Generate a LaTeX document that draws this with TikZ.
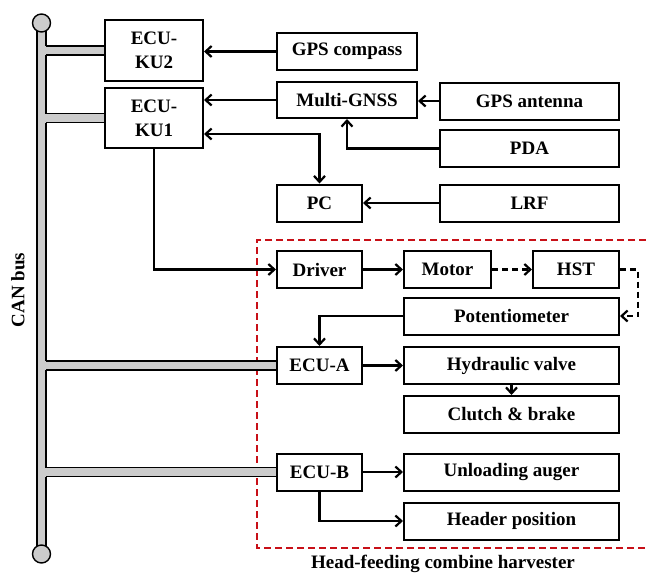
\documentclass[tikz,border=0pt]{standalone}
\usepackage{fontspec}
\setmainfont{Liberation Serif}
\usetikzlibrary{arrows.meta,calc}
\definecolor{busgray}{RGB}{204,204,204}
\definecolor{frame}{RGB}{200,16,24}

\begin{document}
\begin{tikzpicture}[x=1pt,y=-1pt,
  lbl/.style={font=\fontsize{19}{24}\selectfont\bfseries},
  box/.style={lbl, draw, line width=2pt, inner sep=0pt, align=center},
  sbox/.style={box, minimum width=85, minimum height=37},
  wbox/.style={box, minimum width=215, minimum height=37},
  mbox/.style={box, minimum width=179, minimum height=37},
  tip/.style={-{Straight Barb[length=6pt,width=11pt]}},
  link/.style={line width=2.2pt, tip},
  dlink/.style={link, dash pattern=on 6pt off 4pt},
  both/.style={line width=2.2pt, {Straight Barb[length=6pt,width=11pt]}-{Straight Barb[length=6pt,width=11pt]}},
  busline/.style={draw=black, line width=1.4pt, fill=busgray}
]
\useasboundingbox (0,0) rectangle (646,574);

% ---- controller boxes ----
\node[box, minimum width=98, minimum height=61] (ku2) at (154,50.5) {ECU-\\KU2};
\node[box, minimum width=98, minimum height=60] (ku1) at (154,118) {ECU-\\KU1};

% ---- sensors ----
\node[box, minimum width=140, minimum height=37] (gpsc) at (347,51.5) {GPS compass};
\node[box, minimum width=140, minimum height=36] (gnss) at (347,100) {Multi-GNSS};
\node[mbox] (ant) at (529.5,101) {GPS antenna};
\node[mbox] (pda) at (529.5,148.5) {PDA};
\node[sbox] (pc) at (319.5,203) {PC};
\node[mbox] (lrf) at (529.5,203) {LRF};

% ---- harvester ----
\node[sbox] (driver) at (319.5,269.5) {Driver};
\node[box, minimum width=87, minimum height=37] (motor) at (447.5,269.5) {Motor};
\node[box, minimum width=86, minimum height=37] (hst) at (576,269.5) {HST};
\node[wbox] (pot) at (511.5,316) {Potentiometer};
\node[sbox] (ecua) at (319.5,365.5) {ECU-A};
\node[wbox] (hyd) at (511.5,365.5) {Hydraulic valve};
\node[wbox] (clutch) at (511.5,414.5) {Clutch \& brake};
\node[sbox] (ecub) at (319.5,472) {ECU-B};
\node[wbox] (unload) at (511.5,472) {Unloading auger};
\node[wbox] (header) at (511.5,521) {Header position};

% ---- harvester frame ----
\draw[frame, line width=1.8pt, dash pattern=on 7pt off 4pt]
  (646,240) -- (257,240) -- (257,548) -- (646,548);
\node[lbl, anchor=base] (hfc) at (443,568.5) {Head-feeding combine harvester};

% ---- CAN bus ----
\coordinate (busR) at (45,0);
\coordinate (busE) at (46,0);
\draw[busline] (37,23) rectangle (46,554);
\foreach \n in {ku2,ku1,ecua,ecub}{
  \fill[busgray] ($(\n.west -| busR)+(0,-4.5)$) rectangle ($(\n.west)+(0,4.5)$);
  \draw[line width=1.4pt] ($(\n.west -| busE)+(0,-4.5)$) -- ($(\n.west)+(0,-4.5)$);
  \draw[line width=1.4pt] ($(\n.west -| busE)+(0,4.5)$) -- ($(\n.west)+(0,4.5)$);
}
\draw[busline] (41.5,23) circle[radius=9];
\draw[busline] (41.5,554) circle[radius=9];
\node[lbl, rotate=90] (can) at (18,290) {CAN bus};

% ---- signal lines ----
\draw[link] (gpsc.west) -- (gpsc.west -| ku2.east);
\draw[link] (gnss.west) -- (gnss.west -| ku1.east);
\draw[link] (ant.west) -- (ant.west -| gnss.east);
\draw[link] (pda.west) -| (gnss.south);
\draw[both] ($(ku1.east)+(0,16)$) -| (pc.north);
\draw[link] (lrf.west) -- (pc.east);
\draw[link] (ku1.south) |- (driver.west);
\draw[link] (driver.east) -- (motor.west);
\draw[dlink] (motor.east) -- (hst.west);
\coordinate (hstc) at (638,269.5);
\draw[dlink] (hst.east) -- (hstc) |- (pot.east);
\draw[link] (pot.west) -| (ecua.north);
\draw[link] (ecua.east) -- (hyd.west);
\draw[link] (hyd.south) -- (clutch.north);
\draw[link] (ecub.east) -- (unload.west);
\draw[link] (ecub.south) |- (header.west);
\end{tikzpicture}
\end{document}
